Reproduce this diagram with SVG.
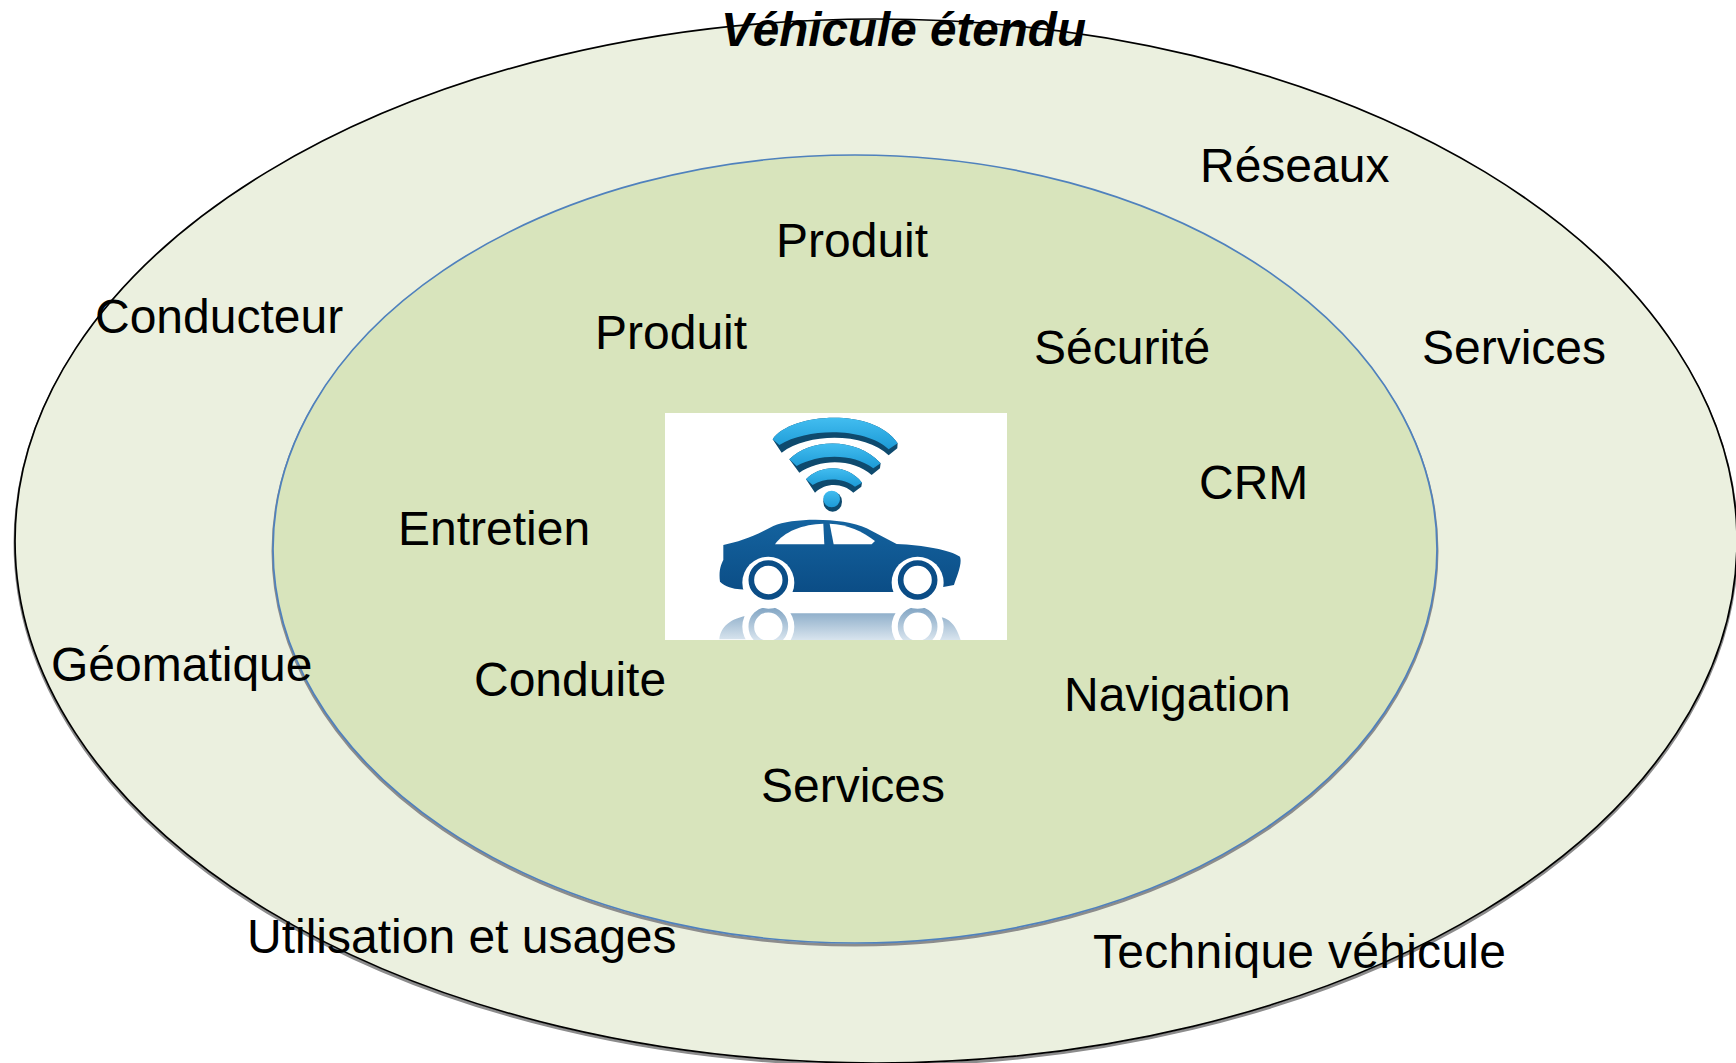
<svg xmlns="http://www.w3.org/2000/svg" width="1736" height="1063" viewBox="0 0 1736 1063">
<style>
text{font-family:"Liberation Sans",Arial,sans-serif;font-size:48px;fill:#000}
.shadow{fill:none;stroke:#8c8c8c;stroke-width:3}
.title{font-weight:bold;font-style:italic;font-size:47.6px}
</style>
<defs>
<linearGradient id="blue" x1="0" y1="0" x2="0" y2="1"><stop offset="0" stop-color="#42bdf0"/><stop offset="1" stop-color="#1c9ad6"/></linearGradient>
<linearGradient id="body" x1="0" y1="0" x2="0" y2="1"><stop offset="0" stop-color="#14639f"/><stop offset="1" stop-color="#0b4d86"/></linearGradient>
<linearGradient id="refl" gradientUnits="userSpaceOnUse" x1="0" y1="620" x2="0" y2="720"><stop offset="0" stop-color="#7fa3c2"/><stop offset="1" stop-color="#d8e4ee"/></linearGradient>
<clipPath id="cut"><rect x="75" y="39" width="1025" height="681"/></clipPath>
</defs>
<g id="outer"><ellipse class="shadow" cx="876" cy="543" rx="861" ry="522"/><ellipse cx="876" cy="541" rx="861" ry="522" fill="#ebf0df" stroke="#000" stroke-width="1.7"/></g>
<g id="inner"><ellipse class="shadow" cx="855" cy="551" rx="582" ry="394"/><ellipse cx="855" cy="549" rx="582" ry="394" fill="#d8e4bc" stroke="#4f81bd" stroke-width="1.7"/></g>
<g id="picture"><rect x="665" y="413" width="342" height="227" fill="#fff"/>
<g transform="translate(640 400) scale(.3333)" clip-path="url(#cut)">
<g fill="#0e4a6e">
<path d="M398 118C450 40 700 20 773 130L772 145L746 166C680 100 510 95 425 158Z"/>
<path d="M448 178C510 115 650 110 722 190L720 205L695 225C640 175 540 175 478 218Z"/>
<path d="M498 238C540 195 620 190 666 248L664 260L640 278C610 250 560 245 525 278Z"/>
<ellipse cx="578" cy="305" rx="28" ry="30"/></g>
<g fill="url(#blue)">
<path d="M398 118C450 40 700 20 773 130L746 148C680 85 510 80 418 135Z"/>
<path d="M448 178C510 115 650 110 722 190L700 205C640 160 540 160 470 198Z"/>
<path d="M498 238C540 195 620 190 666 248L645 260C610 235 560 230 518 255Z"/>
<ellipse cx="575" cy="297" rx="25" ry="25"/></g>
<path fill="url(#refl)" d="M238 718C242 680 270 655 330 645L330 718ZM440 640L780 640L780 720L440 720ZM890 650C930 650 950 680 962 720L890 720Z"/>
<g fill="#fff"><circle cx="385" cy="680" r="78"/><circle cx="833" cy="680" r="78"/></g>
<g fill="none" stroke="url(#refl)" stroke-width="17"><circle cx="385" cy="680" r="51"/><circle cx="833" cy="680" r="51"/></g>
<path fill="url(#body)" d="M250 435C300 425 340 410 400 378C460 352 610 352 680 385L770 432C850 435 930 450 960 470C968 490 950 530 942 555L890 565L800 576L420 576L300 568C280 566 255 560 240 545C235 510 245 490 250 480Z"/>
<path fill="#fff" d="M405 433C430 395 490 372 550 371L553 433Z"/>
<path fill="#fff" d="M569 371C620 372 670 395 705 423L695 433L581 433Z"/>
<g fill="#fff"><circle cx="385" cy="548" r="78"/><circle cx="833" cy="548" r="78"/></g>
<g fill="#fff" stroke="#0b4d86" stroke-width="17"><circle cx="385" cy="540" r="51"/><circle cx="833" cy="540" r="51"/></g>
</g></g>
<g id="labels">
<text class="title" x="721" y="46">Véhicule étendu</text>
<text x="1200" y="182">Réseaux</text>
<text x="776" y="257">Produit</text>
<text x="95" y="333">Conducteur</text>
<text x="595" y="349">Produit</text>
<text x="1034" y="364">Sécurité</text>
<text x="1422" y="364">Services</text>
<text x="1199" y="499">CRM</text>
<text x="398" y="545">Entretien</text>
<text x="51" y="681">Géomatique</text>
<text x="474" y="696">Conduite</text>
<text x="1064" y="711">Navigation</text>
<text x="761" y="802">Services</text>
<text x="247" y="953">Utilisation et usages</text>
<text x="1093" y="968" textLength="413">Technique véhicule</text>
</g>
</svg>
